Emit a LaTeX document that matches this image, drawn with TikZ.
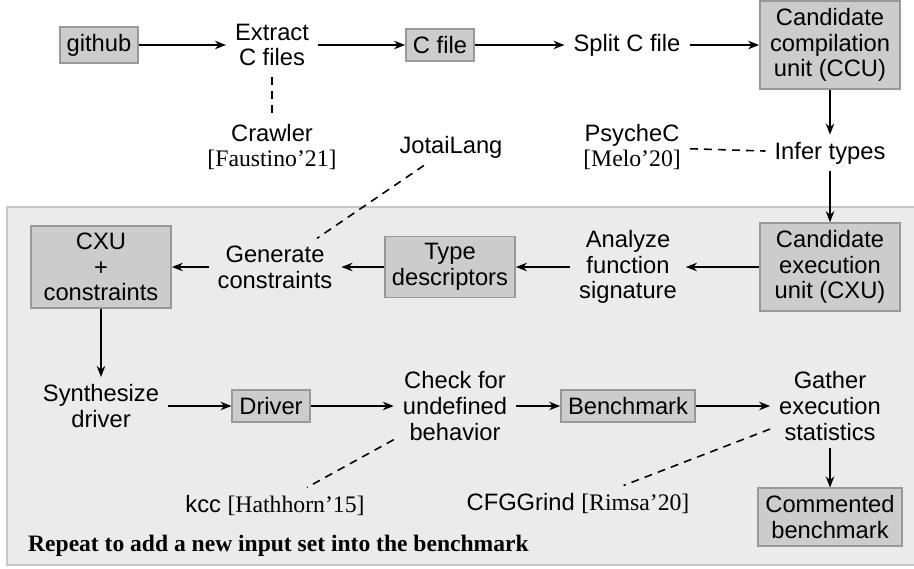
\documentclass[tikz,border=0pt]{standalone}
\usepackage{fontspec}
\setmainfont{Liberation Serif}
\setsansfont{Liberation Sans}
\usepackage{tikz}
\usetikzlibrary{positioning, arrows.meta}

\definecolor{boxfill}{gray}{0.80}
\definecolor{boxline}{gray}{0.60}
\definecolor{loopfill}{gray}{0.92}
\definecolor{loopline}{gray}{0.78}

\begin{document}
\begin{tikzpicture}[
    >={Stealth[length=2.2mm, width=1.7mm]},
    box/.style={draw=boxline, fill=boxfill, line width=1pt, align=center,
                inner sep=4pt, font=\sffamily\fontsize{13.5}{14.7}\selectfont},
    bigbox/.style={box, minimum width=2.8cm},
    txt/.style={align=center, inner xsep=5pt, inner ysep=4pt,
                font=\sffamily\fontsize{13.5}{14.7}\selectfont},
    flow/.style={->, line width=0.9pt},
    tool/.style={line width=0.9pt, dash pattern=on 4.5pt off 3.5pt},
  ]

  \useasboundingbox (0,0) rectangle (18.28,-11.38);

  % ============ Repeat loop background ============
  \draw[loopline, fill=loopfill, line width=1pt] (0.14,-4.14) rectangle (18.40,-11.30);

  % ============ Row 0: collection ============
  \node[box] (github) at (1.98,-0.90) {github};
  \node[txt] (extract) at (5.44,-0.90) {Extract\\C files};
  \node[box] (cfile) at (8.80,-0.90) {C file};
  \node[txt] (split) at (12.54,-0.90) {Split C file};
  \node[bigbox] (ccu) at (16.60,-0.90) {Candidate\\compilation\\unit (CCU)};

  % ============ Row 1: tools ============
  \node[txt] (crawler) at (5.44,-2.94) {Crawler\\{\rmfamily [Faustino'21]}};
  \node[txt] (jotai) at (9.02,-2.94) {JotaiLang};
  \node[txt] (psyche) at (12.64,-2.94) {PsycheC\\{\rmfamily [Melo'20]}};
  \node[txt] (infer) at (16.60,-3.06) {Infer types};

  % ============ Row 2 ============
  \node[bigbox] (cxu) at (16.60,-5.34) {Candidate\\execution\\unit (CXU)};
  \node[txt] (analyze) at (12.56,-5.34) {Analyze\\function\\signature};
  \node[box] (types) at (9.00,-5.34) {Type\\descriptors};
  \node[txt] (generate) at (5.50,-5.34) {Generate\\constraints};
  \node[bigbox] (cxuc) at (2.02,-5.34) {CXU\\+\\constraints};

  % ============ Row 3 ============
  \node[txt] (synth) at (2.02,-8.12) {Synthesize\\driver};
  \node[box] (driver) at (5.42,-8.12) {Driver};
  \node[txt] (check) at (9.10,-8.12) {Check for\\undefined\\behavior};
  \node[box] (bench) at (12.56,-8.12) {Benchmark};
  \node[txt] (gather) at (16.60,-8.12) {Gather\\execution\\statistics};

  % ============ Row 4 ============
  \node[txt] (kcc) at (5.50,-10.10) {kcc {\rmfamily [Hathhorn'15]}};
  \node[txt] (cfg) at (11.56,-10.06) {CFGGrind {\rmfamily [Rimsa'20]}};
  \node[bigbox, minimum width=0cm] (commented) at (16.60,-10.34) {Commented\\benchmark};

  \node[anchor=west, font=\rmfamily\bfseries\fontsize{13.4}{14}\selectfont]
    (repeat) at (0.44,-10.92) {Repeat to add a new input set into the benchmark};

  % ======== FLOW ========
  \draw[flow] (github) -- (extract);
  \draw[flow] (extract) -- (cfile);
  \draw[flow] (cfile) -- (split);
  \draw[flow] (split) -- (ccu);
  \draw[flow] (ccu) -- (infer);
  \draw[flow] (infer) -- (cxu);
  \draw[flow] (cxu) -- (analyze);
  \draw[flow] (analyze) -- (types);
  \draw[flow] (types) -- (generate);
  \draw[flow] (generate) -- (cxuc);
  \draw[flow] (cxuc) -- (synth);
  \draw[flow] (synth) -- (driver);
  \draw[flow] (driver) -- (check);
  \draw[flow] (check) -- (bench);
  \draw[flow] (bench) -- (gather);
  \draw[flow] (gather) -- (commented);

  % ======== TOOLS (dashed) ========
  \draw[tool, shorten <=2pt] (extract) -- (crawler);
  \draw[tool] (psyche) -- (infer);
  \draw[tool] (jotai) -- (generate);
  \draw[tool] (check) -- (kcc);
  \draw[tool] (gather) -- (cfg);

\end{tikzpicture}
\end{document}
